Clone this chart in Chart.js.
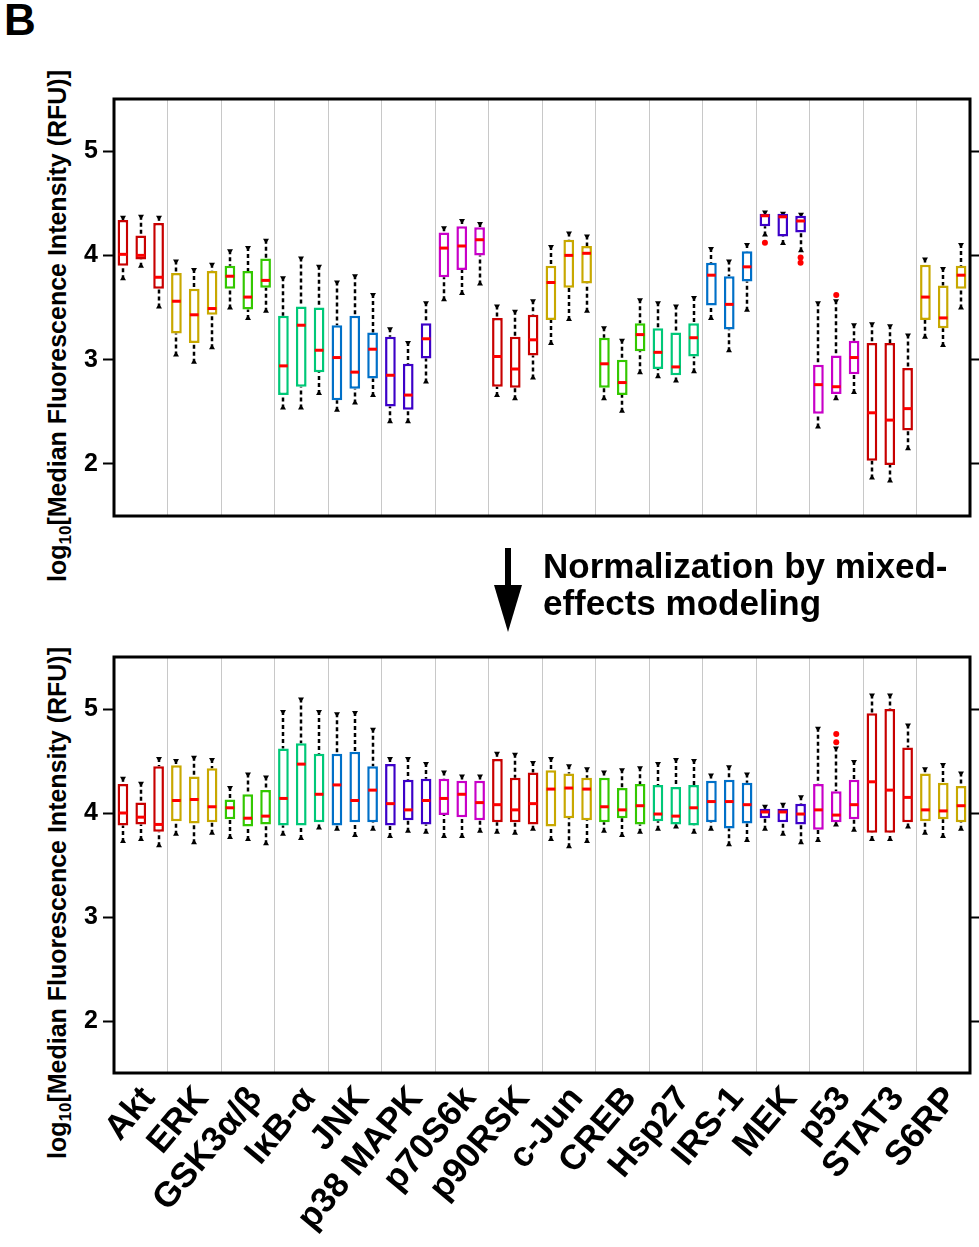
<!DOCTYPE html>
<html>
<head>
<meta charset="utf-8">
<script src="https://cdn.jsdelivr.net/npm/chart.js@4.4.1/dist/chart.umd.min.js"></script>
<style>
  body { margin: 0; background: #fff; width: 979px; height: 1247px; position: relative; overflow: hidden;
         font-family: 'Liberation Sans', Arial, sans-serif; color: #000; }
  canvas { position: absolute; left: 0; }
  #top-chart { top: 0; }
  #bottom-chart { top: 600px; }
  .panel-label { position: absolute; left: 4px; top: -5px; font-weight: bold; font-size: 44px; }
  .ytitle { position: absolute; left: 57px; font-weight: bold; font-size: 25px; white-space: nowrap;
            transform: translate(-50%, -50%) rotate(-90deg); line-height: 25px; }
  .ytitle sub { font-size: 17px; vertical-align: -5px; line-height: 0; }
  .note { position: absolute; left: 543px; top: 547px; font-weight: bold; font-size: 35px; line-height: 37px; }
  svg { position: absolute; }
</style>
</head>
<body>
<div class="panel-label">B</div>
<div class="ytitle" style="top:326px">log<sub>10</sub>[Median Fluorescence Intensity (RFU)]</div>
<div class="ytitle" style="top:903px">log<sub>10</sub>[Median Fluorescence Intensity (RFU)]</div>
<canvas id="top-chart" width="979" height="540"></canvas>
<canvas id="bottom-chart" width="979" height="647"></canvas>
<svg style="left:490px;top:545px" width="40" height="92">
  <rect x="15" y="3" width="6" height="42" fill="#000"></rect>
  <polygon points="4,40 32,40 18,87" fill="#000"></polygon>
</svg>
<div class="note">Normalization by mixed-<br>effects modeling</div>

<script>
const proteins = ['Akt', 'ERK', 'GSK3\u03b1/\u03b2', 'I\u03baB-\u03b1', 'JNK', 'p38 MAPK', 'p70S6k', 'p90RSK',
  'c-Jun', 'CREB', 'Hsp27', 'IRS-1', 'MEK', 'p53', 'STAT3', 'S6RP'];
const replicates = [1, 2, 3];
const palette = ['#c80000', '#c8a800', '#33c800', '#00c878', '#0070c8', '#3c00c8', '#c800c8'];
const yTicks = [2, 3, 4, 5];

// raw intensities (top panel), 3 replicates per protein
const rawHigh = [4.37, 4.38, 4.37, 3.95, 3.87, 3.92, 4.05, 4.08, 4.15, 3.79, 3.98, 3.90,
  3.75, 3.81, 3.63, 3.30, 3.17, 3.55, 4.27, 4.34, 4.31, 3.52, 3.47, 3.57,
  4.09, 4.22, 4.19, 3.31, 3.19, 3.58, 3.55, 3.52, 3.60, 4.07, 3.95, 4.11,
  4.42, 4.41, 4.40, 3.55, 3.57, 3.34, 3.35, 3.33, 3.24, 3.97, 3.88, 4.11];
const rawQ3 = [4.34, 4.19, 4.31, 3.83, 3.68, 3.85, 3.90, 3.85, 3.97, 3.42, 3.51, 3.50,
  3.33, 3.42, 3.26, 3.22, 2.96, 3.35, 4.22, 4.28, 4.27, 3.40, 3.22, 3.43,
  3.90, 4.15, 4.09, 3.21, 3.00, 3.35, 3.30, 3.26, 3.35, 3.93, 3.80, 4.04,
  4.40, 4.40, 4.38, 2.95, 3.04, 3.18, 3.16, 3.16, 2.92, 3.91, 3.71, 3.90];
const rawMed = [4.01, 4.00, 3.79, 3.56, 3.43, 3.49, 3.80, 3.60, 3.76, 2.94, 3.33, 3.09,
  3.02, 2.88, 3.10, 2.85, 2.66, 3.20, 4.07, 4.09, 4.15, 3.03, 2.91, 3.19,
  3.74, 4.00, 4.02, 2.96, 2.78, 3.24, 3.07, 2.93, 3.21, 3.81, 3.53, 3.89,
  4.38, 4.37, 4.33, 2.76, 2.74, 3.02, 2.49, 2.42, 2.53, 3.60, 3.40, 3.81];
const rawQ1 = [3.90, 3.96, 3.68, 3.25, 3.16, 3.43, 3.68, 3.48, 3.69, 2.66, 2.74, 2.88,
  2.61, 2.72, 2.82, 2.55, 2.52, 3.01, 3.79, 3.86, 4.00, 2.74, 2.73, 3.04,
  3.38, 3.69, 3.73, 2.73, 2.66, 3.08, 2.91, 2.85, 3.03, 3.52, 3.29, 3.75,
  4.28, 4.18, 4.22, 2.48, 2.67, 2.86, 2.03, 1.99, 2.32, 3.38, 3.30, 3.68];
const rawLow = [3.77, 3.89, 3.50, 3.04, 2.97, 3.11, 3.49, 3.39, 3.46, 2.53, 2.53, 2.67,
  2.51, 2.58, 2.65, 2.40, 2.40, 2.78, 3.57, 3.63, 3.72, 2.65, 2.62, 2.82,
  3.15, 3.38, 3.46, 2.62, 2.50, 2.87, 2.83, 2.79, 2.88, 3.39, 3.08, 3.47,
  4.19, 4.11, 4.04, 2.35, 2.62, 2.68, 1.86, 1.83, 2.14, 3.21, 3.13, 3.49];
const rawOutlierBox = ['MEK 1', 'MEK 3', 'MEK 3', 'p53 2'];
const rawOutlierValue = [4.12, 3.98, 3.93, 3.62];

// normalized intensities (bottom panel)
const normHigh = [4.34, 4.29, 4.53, 4.51, 4.54, 4.52, 4.25, 4.38, 4.35, 4.98, 5.10, 4.98,
  4.96, 4.97, 4.81, 4.53, 4.53, 4.48, 4.40, 4.36, 4.36, 4.58, 4.57, 4.49,
  4.53, 4.46, 4.43, 4.40, 4.42, 4.44, 4.48, 4.52, 4.51, 4.37, 4.45, 4.38,
  4.07, 4.09, 4.16, 4.82, 4.63, 4.50, 5.14, 5.14, 4.85, 4.43, 4.47, 4.39];
const normQ3 = [4.28, 4.10, 4.45, 4.46, 4.35, 4.43, 4.13, 4.18, 4.22, 4.62, 4.67, 4.57,
  4.57, 4.59, 4.45, 4.47, 4.32, 4.33, 4.33, 4.31, 4.31, 4.52, 4.34, 4.39,
  4.41, 4.38, 4.34, 4.34, 4.24, 4.28, 4.27, 4.25, 4.27, 4.31, 4.32, 4.29,
  4.04, 4.04, 4.09, 4.28, 4.21, 4.32, 4.96, 5.00, 4.63, 4.38, 4.29, 4.26];
const normMed = [4.00, 3.96, 3.89, 4.12, 4.13, 4.06, 4.05, 3.95, 3.97, 4.14, 4.47, 4.18,
  4.27, 4.12, 4.22, 4.09, 4.03, 4.12, 4.14, 4.18, 4.10, 4.08, 4.03, 4.09,
  4.23, 4.24, 4.23, 4.06, 4.03, 4.07, 3.99, 3.97, 4.05, 4.11, 4.11, 4.08,
  4.01, 4.01, 3.99, 4.03, 3.98, 4.08, 4.30, 4.22, 4.15, 4.03, 4.02, 4.07];
const normQ1 = [3.88, 3.89, 3.82, 3.92, 3.90, 3.91, 3.94, 3.87, 3.89, 3.88, 3.88, 3.91,
  3.88, 3.91, 3.91, 3.88, 3.93, 3.89, 3.98, 3.96, 3.93, 3.91, 3.91, 3.89,
  3.87, 3.95, 3.93, 3.91, 3.95, 3.89, 3.92, 3.89, 3.88, 3.91, 3.85, 3.90,
  3.95, 3.91, 3.89, 3.84, 3.91, 3.94, 3.81, 3.81, 3.91, 3.92, 3.94, 3.91];
const normLow = [3.72, 3.74, 3.68, 3.79, 3.71, 3.80, 3.76, 3.74, 3.70, 3.79, 3.75, 3.85,
  3.84, 3.78, 3.84, 3.77, 3.82, 3.81, 3.77, 3.77, 3.82, 3.81, 3.80, 3.84,
  3.74, 3.67, 3.72, 3.82, 3.78, 3.81, 3.84, 3.86, 3.81, 3.84, 3.69, 3.73,
  3.84, 3.79, 3.71, 3.73, 3.88, 3.83, 3.74, 3.74, 3.86, 3.80, 3.77, 3.84];
const normOutlierBox = ['p53 2', 'p53 2'];
const normOutlierValue = [4.76, 4.68];

const FONT = "'Liberation Sans', Arial, sans-serif";
Chart.defaults.font.family = FONT;
Chart.defaults.color = '#000';

const boxLabels = proteins.flatMap((p) => replicates.map((r) => p + ' ' + r));
const boxColors = boxLabels.map((_, i) => palette[Math.floor(i / 3) % palette.length]);

function makeBoxPlugin(low, med, high) {
  return {
    id: 'boxWhiskers',
    beforeDatasetsDraw(chart) {
      const ctx = chart.ctx;
      const y = chart.scales.y;
      const bars = chart.getDatasetMeta(0).data;
      ctx.save();
      ctx.strokeStyle = '#000';
      ctx.fillStyle = '#000';
      ctx.lineWidth = 2.5;
      bars.forEach((bar, i) => {
        const x = Math.round(bar.x);
        const boxTop = Math.min(bar.y, bar.base);
        const boxBot = Math.max(bar.y, bar.base);
        const yHi = y.getPixelForValue(high[i]);
        const yLo = y.getPixelForValue(low[i]);
        ctx.setLineDash([4, 3]);
        ctx.beginPath();
        ctx.moveTo(x, yHi);
        ctx.lineTo(x, boxTop);
        ctx.moveTo(x, yLo);
        ctx.lineTo(x, boxBot);
        ctx.stroke();
        ctx.setLineDash([]);
        // whisker caps
        ctx.beginPath();
        ctx.moveTo(x - 3, yHi - 1);
        ctx.lineTo(x + 3, yHi - 1);
        ctx.lineTo(x, yHi + 4);
        ctx.closePath();
        ctx.moveTo(x - 3, yLo + 1);
        ctx.lineTo(x + 3, yLo + 1);
        ctx.lineTo(x, yLo - 4);
        ctx.closePath();
        ctx.fill();
      });
      ctx.restore();
    },
    afterDatasetsDraw(chart) {
      const ctx = chart.ctx;
      const y = chart.scales.y;
      const bars = chart.getDatasetMeta(0).data;
      ctx.save();
      ctx.strokeStyle = '#ff0000';
      ctx.lineWidth = 3;
      bars.forEach((bar, i) => {
        const yMed = y.getPixelForValue(med[i]);
        ctx.beginPath();
        ctx.moveTo(bar.x - bar.width / 2 + 1, yMed);
        ctx.lineTo(bar.x + bar.width / 2 - 1, yMed);
        ctx.stroke();
      });
      ctx.restore();
    },
    afterDraw(chart) {
      const a = chart.chartArea;
      const ctx = chart.ctx;
      ctx.save();
      ctx.strokeStyle = '#000';
      ctx.lineWidth = 3;
      ctx.strokeRect(a.left, a.top, a.right - a.left, a.bottom - a.top);
      ctx.restore();
    },
  };
}

function renderPanel(canvasId, low, q1, med, q3, high, outBox, outVal, showLabels, padTop, xHeight, padBottom) {
  const ctx = document.getElementById(canvasId).getContext('2d');
  return new Chart(ctx, {
    type: 'bar',
    data: {
      labels: boxLabels,
      datasets: [
        {
          data: q1.map((v, i) => [v, q3[i]]),
          backgroundColor: '#ffffff',
          borderColor: boxColors,
          borderWidth: 2.5,
          borderSkipped: false,
          barPercentage: 0.6,
          categoryPercentage: 1.0,
        },
        {
          type: 'scatter',
          data: outBox.map((b, i) => ({ x: b, y: outVal[i] })),
          pointRadius: 3,
          pointBackgroundColor: '#ff0000',
          pointBorderWidth: 0,
        },
      ],
    },
    options: {
      responsive: false,
      animation: false,
      devicePixelRatio: 1,
      layout: { padding: { top: padTop, bottom: padBottom, left: 0, right: 0 } },
      plugins: { legend: { display: false }, tooltip: { enabled: false } },
      scales: {
        x: {
          type: 'category',
          offset: true,
          grid: {
            offset: true,
            drawTicks: false,
            lineWidth: 1,
            color: (c) => (c.index % 3 === 0 && c.index > 0 && c.index < boxLabels.length ? '#c8c8c8' : 'rgba(0,0,0,0)'),
          },
          border: { display: false },
          ticks: {
            display: showLabels,
            autoSkip: false,
            minRotation: 50,
            maxRotation: 50,
            padding: 6,
            labelOffset: 8,
            font: { size: 35, weight: 'bold' },
            callback: (v, i) => (i % 3 === 1 ? proteins[(i - 1) / 3] : ''),
          },
          afterFit: (s) => {
            s.height = xHeight;
            s.paddingLeft = 0;
            s.paddingRight = 0;
          },
        },
        y: {
          position: 'left',
          min: 1.5,
          max: 5.5,
          afterBuildTicks: (s) => { s.ticks = yTicks.map((v) => ({ value: v })); },
          grid: { drawOnChartArea: false, drawTicks: true, tickLength: 11, tickColor: '#000', tickWidth: 2 },
          border: { display: false },
          ticks: { padding: 5, font: { size: 25, weight: 'bold' } },
          afterFit: (s) => { s.width = 114; },
        },
        y2: {
          position: 'right',
          display: true,
          min: 1.5,
          max: 5.5,
          afterBuildTicks: (s) => { s.ticks = yTicks.map((v) => ({ value: v })); },
          grid: { drawOnChartArea: false, drawTicks: true, tickLength: 9, tickColor: '#000', tickWidth: 2 },
          border: { display: false },
          ticks: { display: false },
          afterFit: (s) => { s.width = 9; },
        },
      },
    },
    plugins: [makeBoxPlugin(low, med, high)],
  });
}

renderPanel('top-chart', rawLow, rawQ1, rawMed, rawQ3, rawHigh, rawOutlierBox, rawOutlierValue, false, 99, 0, 24);
renderPanel('bottom-chart', normLow, normQ1, normMed, normQ3, normHigh, normOutlierBox, normOutlierValue, true, 57, 174, 0);
</script>
</body>
</html>
